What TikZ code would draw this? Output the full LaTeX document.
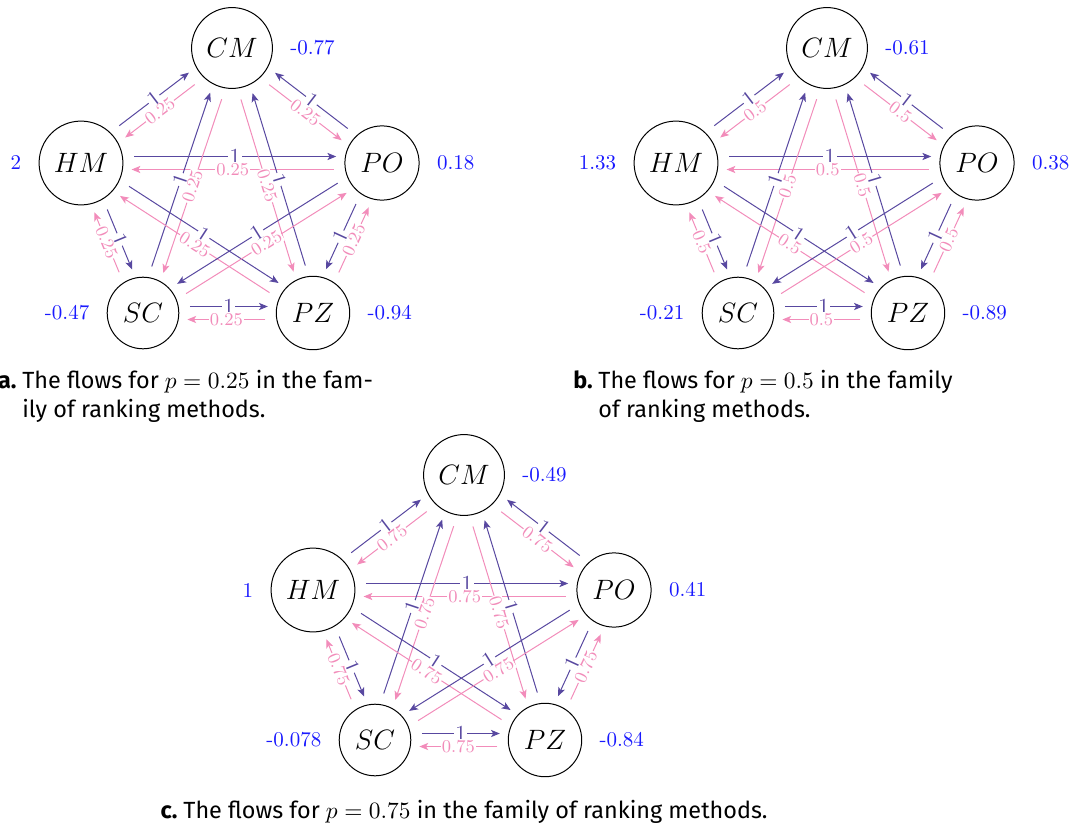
\documentclass[tikz,border=0pt]{standalone}
\usepackage{fix-cm}
\usepackage{fontspec}
\newfontfamily\capfont{Fira Sans}
\usetikzlibrary{calc,arrows.meta}

\definecolor{unitflow}{RGB}{88,72,160}
\definecolor{partflow}{RGB}{242,140,186}
\definecolor{netflow}{RGB}{25,25,255}

% distance from a node centre to the start (s) and to the tip (e) of an arrow
\def\sCM{25.9pt}\def\eCM{24.6pt}
\def\sHM{26.5pt}\def\eHM{25.3pt}
\def\sPO{24.1pt}\def\ePO{22.9pt}
\def\sSC{23.4pt}\def\eSC{22.2pt}
\def\sPZ{23.8pt}\def\ePZ{22.6pt}
% half the gap between the two arrows of a pair
\def\laneoff{3.25pt}

\tikzset{
  alt/.style={circle, draw, line width=0.5pt, inner sep=5pt,
    font=\fontsize{14}{16}\selectfont},
  netval/.style={text=netflow, inner sep=0pt, font=\fontsize{10.5}{12}\selectfont},
  tip/.style={-{Stealth[length=4.4pt,width=3.6pt,inset=1.1pt]}},
  onearrow/.style={draw=unitflow, line width=0.5pt, tip},
  parrow/.style={draw=partflow, line width=0.5pt, tip},
  onelabel/.style={midway, sloped, fill=white, inner sep=0.5pt, text=unitflow,
    font=\fontsize{11.5}{12}\selectfont},
  plabel/.style={midway, sloped, fill=white, inner sep=0.5pt, text=partflow,
    font=\fontsize{9}{10}\selectfont},
  capline/.style={anchor=base west, inner sep=0pt, font=\capfont\fontsize{11.7}{14}\selectfont},
  captag/.style={anchor=base east, inner sep=0pt, font=\capfont\bfseries\fontsize{11.7}{14}\selectfont},
}

% #1 panel, #2 node sending the unit flow, #3 node receiving it,
% #4 side of the unit arrow (90 = left of its direction, -90 = right),
% #5 weight of the return flow
\newcommand\flowpair[5]{%
  \pgfmathsetmacro\otherside{-(#4)}%
  \draw[onearrow] ($(#1#2)!\csname s#2\endcsname!(#1#3)!\laneoff!#4:(#1#3)$)
    -- node[onelabel]{1}
    ($(#1#3)!\csname e#3\endcsname!(#1#2)!\laneoff!\otherside:(#1#2)$);
  \draw[parrow] ($(#1#3)!\csname s#3\endcsname!(#1#2)!\laneoff!#4:(#1#2)$)
    -- node[plabel]{#5}
    ($(#1#2)!\csname e#2\endcsname!(#1#3)!\laneoff!\otherside:(#1#3)$);
}

% #1 panel, #2 shift, #3 weight of the return flows,
% #4-#8 net flows of CM, HM, PO, SC, PZ
\newcommand\flowpanel[8]{%
  \begin{scope}[shift={#2}]
    \node[alt, label={[netval,label distance=8.5pt]right:#4}] (#1CM) at (232,48) {$CM$};
    \node[alt, label={[netval,label distance=8.5pt]left:#5}]  (#1HM) at (81,163)  {$HM$};
    \node[alt, label={[netval,label distance=8.5pt]right:#6}] (#1PO) at (382,163) {$PO$};
    \node[alt, label={[netval,label distance=8.5pt]left:#7}]  (#1SC) at (143,313) {$SC$};
    \node[alt, label={[netval,label distance=8.5pt]right:#8}] (#1PZ) at (313,313) {$PZ$};
  \end{scope}
  \flowpair{#1}{HM}{CM}{90}{#3}
  \flowpair{#1}{PO}{CM}{-90}{#3}
  \flowpair{#1}{HM}{PO}{90}{#3}
  \flowpair{#1}{SC}{CM}{90}{#3}
  \flowpair{#1}{PZ}{CM}{-90}{#3}
  \flowpair{#1}{HM}{SC}{90}{#3}
  \flowpair{#1}{PO}{PZ}{-90}{#3}
  \flowpair{#1}{HM}{PZ}{90}{#3}
  \flowpair{#1}{PO}{SC}{-90}{#3}
  \flowpair{#1}{SC}{PZ}{90}{#3}
}

\begin{document}
\begin{tikzpicture}[x=0.5pt, y=-0.5pt]
  \useasboundingbox (0,0) rectangle (1075,829);

  \flowpanel{a}{(0,0)}{0.25}{-0.77}{2}{0.18}{-0.47}{-0.94}
  \flowpanel{b}{(595,0)}{0.5}{-0.61}{1.33}{0.38}{-0.21}{-0.89}
  \flowpanel{c}{(232,427)}{0.75}{-0.49}{1}{0.41}{-0.078}{-0.84}

  % captions
  \node[captag]  (capa)  at (17,388)  {a.};
  \node[capline] (capa1) at (22,388)  {The flows for $p = 0.25$ in the fam-};
  \node[capline] (capa2) at (22,417)  {ily of ranking methods.};
  \node[captag]  (capb)  at (593,388) {b.};
  \node[capline] (capb1) at (598,388) {The flows for $p = 0.5$ in the family};
  \node[capline] (capb2) at (598,417) {of ranking methods.};
  \node[captag]  (capc)  at (178,818) {c.};
  \node[capline] (capc1) at (183,818) {The flows for $p = 0.75$ in the family of ranking methods.};
\end{tikzpicture}
\end{document}
